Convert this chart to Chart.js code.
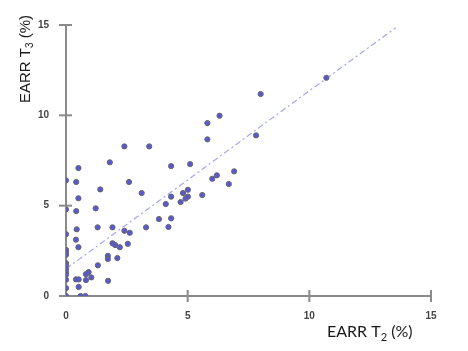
<!DOCTYPE html>
<html>
<head>
<meta charset="utf-8">
<script src="https://cdn.jsdelivr.net/npm/chart.js@4.4.0/dist/chart.umd.min.js"></script>
<style>
  html, body { margin: 0; padding: 0; background: #fff; }
  #wrap { width: 468px; height: 351px; position: relative; }
</style>
</head>
<body>
<div id="wrap"><canvas id="js-chart-earr"></canvas></div>
<script>
// EARR at T2 (x) vs EARR at T3 (y), in %
const earrT2 = [
  0, 0.42, 0.51, 1.80, 2.40, 3.42, 4.32, 2.59, 1.41, 3.11,
  4.32, 0.51, 4.10, 0, 1.22, 0.42, 0, 0.44, 1.30, 1.91,
  2.40, 2.62, 3.29, 3.82, 4.21, 4.32, 0.41, 0.51, 1.91, 2.02,
  2.21, 2.54, 0, 0, 0, 1.72, 1.72, 2.11, 1.31, 0,
  0, 0, 0, 0, 0.93, 0.82, 1.04, 0.82, 0.41, 0.52,
  0, 1.73, 0.52, 0, 0, 0.60, 0.80, 6.31, 5.81, 5.81,
  7.81, 5.10, 6.91, 6.20, 6.01, 6.69, 5.01, 4.81, 5.01, 4.91,
  5.60, 4.71, 8.00, 10.70
];
const earrT3 = [
  6.40, 6.31, 7.08, 7.40, 8.28, 8.28, 7.19, 6.31, 5.90, 5.70,
  5.50, 5.41, 5.09, 4.80, 4.85, 4.70, 3.42, 3.69, 3.80, 3.80,
  3.61, 3.50, 3.80, 4.26, 3.82, 4.30, 3.12, 2.70, 2.92, 2.82,
  2.70, 2.89, 2.55, 2.42, 2.28, 2.22, 2.05, 2.10, 1.70, 1.82,
  1.68, 1.48, 1.30, 1.18, 1.32, 1.21, 1.03, 0.88, 0.92, 0.92,
  0.90, 0.84, 0.50, 0.44, 0, 0, 0, 9.98, 9.57, 8.67,
  8.89, 7.30, 6.90, 6.68, 6.49, 6.20, 5.88, 5.70, 5.50, 5.39,
  5.59, 5.20, 11.18, 12.08
];

// dashed reference line
const fitX = [0, 13.55];
const fitY = [1.5, 14.85];

const axisTicks = [0, 5, 10, 15];

// crossing tick marks + axis titles with subscripts
const axisDecor = {
  id: 'axisDecor',
  afterDraw(chart) {
    const ctx = chart.ctx;
    const xs = chart.scales.x, ys = chart.scales.y;
    const x0 = xs.getPixelForValue(0), y0 = ys.getPixelForValue(0);
    ctx.save();
    ctx.strokeStyle = '#8a8a8a';
    ctx.lineWidth = 2;
    axisTicks.forEach(function (v) {
      let px = xs.getPixelForValue(v);
      if (v > 0) {
        ctx.beginPath(); ctx.moveTo(px, y0 - 6); ctx.lineTo(px, y0 + 6); ctx.stroke();
      }
      let py = ys.getPixelForValue(v);
      if (v > 0) {
        ctx.beginPath(); ctx.moveTo(x0 - 7, py); ctx.lineTo(x0 + 6, py); ctx.stroke();
      }
    });
    ctx.beginPath(); ctx.moveTo(x0 - 7, y0); ctx.lineTo(x0, y0); ctx.stroke();

    ctx.fillStyle = '#1a1a1a';
    ctx.textBaseline = 'alphabetic';
    ctx.textAlign = 'left';

    // x title
    let tx = 327, ty = 337;
    ctx.font = '16px Lato';
    ctx.fillText('EARR T', tx, ty);
    tx += ctx.measureText('EARR T').width;
    ctx.font = '11px Lato';
    ctx.fillText('2', tx, ty + 4);
    tx += ctx.measureText('2').width;
    ctx.font = '16px Lato';
    ctx.fillText(' (%)', tx, ty);

    // y title (rotated)
    ctx.translate(30, 103);
    ctx.rotate(-Math.PI / 2);
    let sx = 0;
    ctx.font = '15px "Liberation Sans"';
    ctx.fillText('EARR T', sx, 0);
    sx += ctx.measureText('EARR T').width;
    ctx.font = '10px "Liberation Sans"';
    ctx.fillText('3', sx, 3);
    sx += ctx.measureText('3').width;
    ctx.font = '15px "Liberation Sans"';
    ctx.fillText(' (%)', sx, 0);
    ctx.restore();
  }
};

const tickFont = { family: '"Liberation Sans", Arial', size: 10, weight: 'bold' };

new Chart(document.getElementById('js-chart-earr'), {
  type: 'scatter',
  data: {
    datasets: [
      {
        label: 'EARR',
        data: earrT2.map(function (x, i) { return { x: x, y: earrT3[i] }; }),
        backgroundColor: '#5858d8',
        borderColor: '#666',
        borderWidth: 1,
        pointRadius: 2.6
      },
      {
        label: 'Reference',
        type: 'line',
        data: fitX.map(function (x, i) { return { x: x, y: fitY[i] }; }),
        borderColor: '#a4a4f2',
        borderWidth: 1.2,
        borderDash: [6, 3, 2, 3],
        pointRadius: 0,
        fill: false
      }
    ]
  },
  options: {
    responsive: true,
    maintainAspectRatio: false,
    animation: false,
    layout: { padding: { top: 25, right: 37, left: 0, bottom: 0 } },
    plugins: { legend: { display: false }, tooltip: { enabled: false } },
    scales: {
      x: {
        type: 'linear',
        min: 0, max: 15,
        afterFit: function (s) { s.height = 55; },
        afterBuildTicks: function (s) { s.ticks = axisTicks.map(function (v) { return { value: v }; }); },
        grid: { display: false },
        border: { display: true, color: '#8a8a8a', width: 2 },
        ticks: { color: '#444', font: tickFont, padding: 6, maxRotation: 0 }
      },
      y: {
        type: 'linear',
        min: 0, max: 15,
        afterFit: function (s) { s.width = 66; },
        afterBuildTicks: function (s) { s.ticks = axisTicks.map(function (v) { return { value: v }; }); },
        grid: { display: false },
        border: { display: true, color: '#8a8a8a', width: 2 },
        ticks: { color: '#444', font: tickFont, padding: 9 }
      }
    }
  },
  plugins: [axisDecor]
});
</script>
</body>
</html>
